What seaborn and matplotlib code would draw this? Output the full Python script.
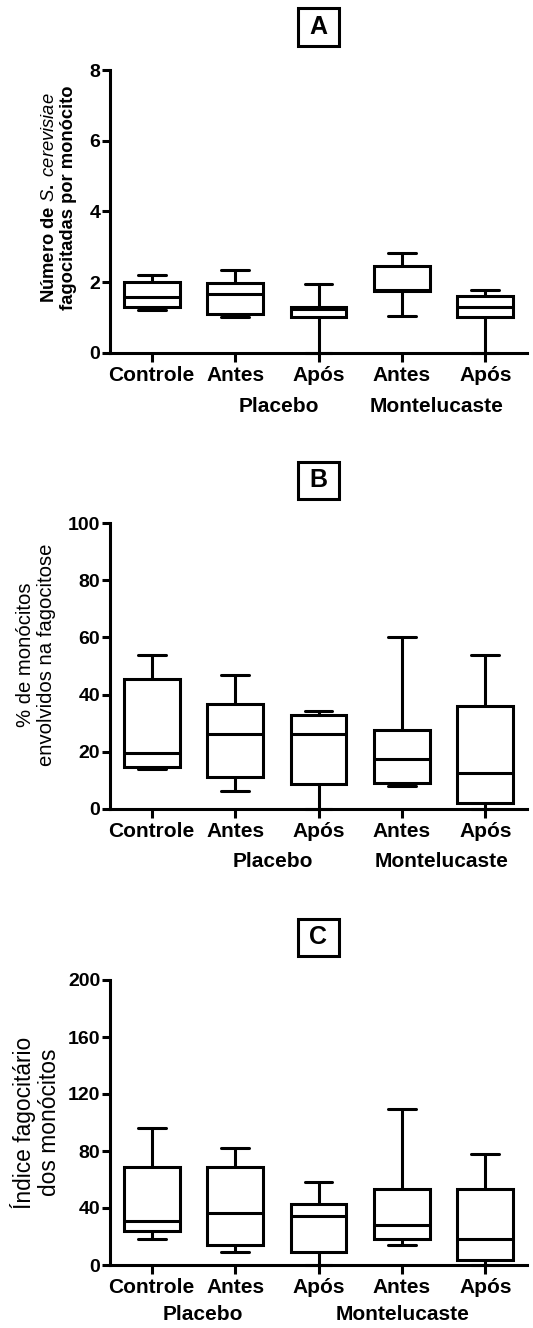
import matplotlib
matplotlib.use("Agg")
import matplotlib.pyplot as plt
from matplotlib.patches import Rectangle
import pandas as pd
import seaborn as sns

# ---- data: five-number summaries (min, Q1, median, Q3, max) per group ----
group_keys = ["controle", "placebo_antes", "placebo_apos", "monte_antes", "monte_apos"]
tick_labels = ["Controle", "Antes", "Após", "Antes", "Após"]

fagocitadas = {
    "controle":      [1.21, 1.28, 1.58, 2.01, 2.20],
    "placebo_antes": [1.00, 1.10, 1.65, 1.97, 2.34],
    "placebo_apos":  [0.00, 1.02, 1.23, 1.30, 1.94],
    "monte_antes":   [1.04, 1.75, 1.78, 2.46, 2.81],
    "monte_apos":    [0.00, 1.02, 1.28, 1.60, 1.78],
}
percentual = {
    "controle":      [13.9, 14.7, 19.4, 45.5, 54.0],
    "placebo_antes": [6.1, 11.2, 26.1, 36.8, 46.7],
    "placebo_apos":  [0.0, 8.7, 26.1, 32.7, 34.2],
    "monte_antes":   [8.0, 9.1, 17.3, 27.6, 60.0],
    "monte_apos":    [0.0, 2.1, 12.4, 36.1, 54.0],
}
indice = {
    "controle":      [18.0, 24.1, 30.6, 68.5, 95.9],
    "placebo_antes": [9.4, 13.8, 36.7, 68.5, 82.3],
    "placebo_apos":  [0.0, 9.1, 34.4, 42.8, 58.0],
    "monte_antes":   [14.0, 18.5, 28.1, 53.6, 109.7],
    "monte_apos":    [0.0, 3.3, 18.0, 53.6, 78.1],
}

panel_letters = ["A", "B", "C"]
y_limits = [(0, 8), (0, 100), (0, 200)]
y_ticks = [[0, 2, 4, 6, 8], [0, 20, 40, 60, 80, 100], [0, 40, 80, 120, 160, 200]]
y_labels = [
    "Número de $\\mathit{S.\\ cerevisiae}$\nfagocitadas por monócito",
    "% de monócitos\nenvolvidos na fagocitose",
    "Índice fagocitário\ndos monócitos",
]
group_names = ["Placebo", "Montelucaste"]

# ---- layout (pixels of a 533 x 1328 canvas) ----
W, H = 533, 1328
ax_left, ax_right = 110, 527
ax_spans = [(70, 352.7), (523.3, 808.7), (980, 1265)]   # top, bottom
ylabel_x = [59, 36, 35.5]
ylabel_y = [0.547, 0.54, 0.50]
ylabel_size = [13.2, 14.6, 16.4]
ylabel_bold = [True, False, False]
group_label_x = [(1.53, 3.42), (1.45, 3.48), (0.61, 3.01)]
group_label_drop = [54, 53, 50]

sns.set_theme(style="ticks")
plt.rcParams["font.family"] = ["Liberation Sans", "DejaVu Sans"]
plt.rcParams["mathtext.fontset"] = "custom"
plt.rcParams["mathtext.rm"] = "Liberation Sans:bold"
plt.rcParams["mathtext.it"] = "Liberation Sans:italic"
for key in ["text.color", "axes.labelcolor", "xtick.color", "ytick.color",
            "axes.edgecolor"]:
    plt.rcParams[key] = "black"

fig = plt.figure(figsize=(W / 100, H / 100), dpi=100)
LW = 2.2

for i, values in enumerate([fagocitadas, percentual, indice]):
    top, bottom = ax_spans[i]
    ax = fig.add_axes([ax_left / W, 1 - bottom / H,
                       (ax_right - ax_left) / W, (bottom - top) / H])
    df = pd.DataFrame(
        [(k, v) for k in group_keys for v in values[k]],
        columns=["grupo", "valor"],
    )
    sns.boxplot(data=df, x="grupo", y="valor", order=group_keys,
                whis=(0, 100), width=0.67, color="white", linecolor="black",
                linewidth=LW, showfliers=False, saturation=1, ax=ax)
    for art in ax.lines + ax.patches:
        art.set_clip_on(False)

    ax.set_xlim(-0.5, 4.5)
    ax.set_ylim(*y_limits[i])
    ax.set_yticks(y_ticks[i])
    ax.set_yticklabels([str(t) for t in y_ticks[i]], fontsize=14,
                       fontweight="bold")
    ax.set_xticks(range(len(group_keys)))
    ax.set_xticklabels(tick_labels, fontsize=15, fontweight="bold")
    ax.set_xlabel("")
    ax.set_ylabel("")
    sns.despine(ax=ax)
    for s in ["left", "bottom"]:
        ax.spines[s].set_linewidth(LW)
        ax.spines[s].set_color("black")
    ax.tick_params(axis="y", length=6, width=LW, pad=1, colors="black")
    ax.tick_params(axis="x", length=6.5, width=LW, pad=3, colors="black")

    # axis title
    ax.text((ylabel_x[i] - ax_left) / (ax_right - ax_left), ylabel_y[i],
            y_labels[i], transform=ax.transAxes, rotation=90,
            ha="center", va="center", multialignment="center",
            fontsize=ylabel_size[i],
            fontweight="bold" if ylabel_bold[i] else "normal",
            linespacing=1.1)

    # treatment group names under the tick labels
    for name, gx in zip(group_names, group_label_x[i]):
        ax.annotate(name, xy=(gx, 0), xycoords=("data", "axes fraction"),
                    xytext=(0, -group_label_drop[i]), textcoords="offset pixels",
                    ha="center", va="center", fontsize=15, fontweight="bold")

    # boxed panel letter
    cx = (ax_left + ax_right) / 2
    cy = top - 43
    bw, bh = 41, 37
    fig.add_artist(Rectangle(((cx - bw / 2) / W, 1 - (cy + bh / 2) / H),
                             bw / W, bh / H, transform=fig.transFigure,
                             fill=False, edgecolor="black", linewidth=LW))
    fig.text(cx / W, 1 - cy / H, panel_letters[i], ha="center", va="center",
             fontsize=18, fontweight="bold")

fig.savefig("out.png", dpi=100, facecolor="white")
